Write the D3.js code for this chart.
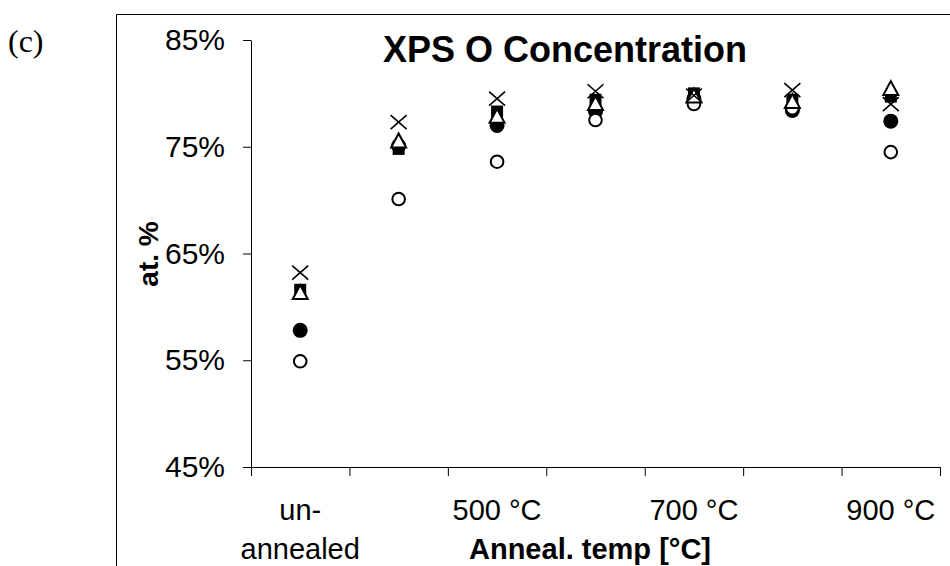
<!DOCTYPE html>
<html><head><meta charset="utf-8">
<script src="https://cdn.jsdelivr.net/npm/d3@7"></script>
<style>body{margin:0;background:#fff}svg{display:block}</style>
</head><body>
<svg id="c" width="950" height="566"></svg>
<script>
const categories = ["un-annealed","400 °C","500 °C","600 °C","700 °C","800 °C","900 °C"];
const shownLabels = [["un-","annealed"],null,["500 °C"],null,["700 °C"],null,["900 °C"]];
const yTicks = [45,55,65,75,85];
const seriesSquare   = [61.6, 74.8, 78.3, 79.4, 80.0, 79.4, 79.7];
const seriesFilled   = [57.8, 75.1, 77.0, 78.3, 79.5, 78.4, 77.4];
const seriesOpen     = [54.9, 70.1, 73.6, 77.5, 79.0, 78.6, 74.5];
const seriesTriangle = [61.3, 75.5, 77.8, 79.0, 79.7, 79.2, 80.4];
const seriesCross    = [63.2, 77.3, 79.5, 80.2, 79.8, 80.3, 79.0];

const svg = d3.select("#c");
const font = "Liberation Sans, Arial, sans-serif";
// outer frame (cropped: only top and left edges visible)
svg.append("path").attr("d","M116.5,566V14.5H950")
  .attr("fill","none").attr("stroke","#000").attr("stroke-width",1);
svg.append("text").attr("x",8).attr("y",52).attr("font-family","Liberation Serif, Times New Roman, serif")
  .attr("font-size",32).text("(c)");

const x = d3.scaleBand().domain(categories).range([251,940]).padding(0);
const y = d3.scaleLinear().domain([45,85]).range([467,40]);

// y axis
const gy = svg.append("g").attr("transform","translate(251,0)")
  .call(d3.axisLeft(y).tickValues(yTicks).tickSize(8).tickSizeOuter(0).tickFormat(d=>d+"%"));
gy.select(".domain").attr("stroke","#000");
gy.selectAll(".tick line").attr("stroke","#000");
gy.selectAll(".tick text").attr("font-family",font).attr("font-size",30).attr("fill","#000").attr("x",-26);

// x axis
svg.append("line").attr("x1",251).attr("x2",940).attr("y1",467.5).attr("y2",467.5).attr("stroke","#000");
const bounds = categories.map(c=>x(c)).concat([x(categories[categories.length-1])+x.bandwidth()]);
svg.selectAll(".xt").data(bounds).enter().append("line")
  .attr("x1",d=>d+0.5).attr("x2",d=>d+0.5).attr("y1",467).attr("y2",476).attr("stroke","#000");
categories.forEach((c,i)=>{
  const lab = shownLabels[i]; if(!lab) return;
  lab.forEach((t,j)=>{
    svg.append("text").attr("x",x(c)+x.bandwidth()/2).attr("y",520+j*39)
      .attr("text-anchor","middle").attr("font-family",font).attr("font-size",29).text(t);
  });
});

svg.append("text").attr("x",590).attr("y",559).attr("text-anchor","middle")
  .attr("font-family",font).attr("font-weight","bold").attr("font-size",29).text("Anneal. temp [°C]");
svg.append("text").attr("transform","translate(158,254) rotate(-90)").attr("text-anchor","middle")
  .attr("font-family",font).attr("font-weight","bold").attr("font-size",28).text("at. %");
svg.append("text").attr("x",565).attr("y",62).attr("text-anchor","middle")
  .attr("font-family",font).attr("font-weight","bold").attr("font-size",36).text("XPS O Concentration");

const cx = c => x(c)+x.bandwidth()/2;
const pts = arr => categories.map((c,i)=>({x:cx(c), y:y(arr[i])}));
// squares
svg.append("g").selectAll("rect").data(pts(seriesSquare)).enter().append("rect")
  .attr("x",d=>d.x-6).attr("y",d=>d.y-6).attr("width",12).attr("height",12).attr("fill","#000");
// filled circles
svg.append("g").selectAll("circle").data(pts(seriesFilled)).enter().append("circle")
  .attr("cx",d=>d.x).attr("cy",d=>d.y).attr("r",7.5).attr("fill","#000");
// open circles
svg.append("g").selectAll("circle").data(pts(seriesOpen)).enter().append("circle")
  .attr("cx",d=>d.x).attr("cy",d=>d.y).attr("r",6.3).attr("fill","#fff").attr("stroke","#000").attr("stroke-width",2);
// triangles
svg.append("g").selectAll("path").data(pts(seriesTriangle)).enter().append("path")
  .attr("d",d=>`M${d.x},${d.y-8}L${d.x+7.5},${d.y+6}L${d.x-7.5},${d.y+6}Z`)
  .attr("fill","#fff").attr("stroke","#000").attr("stroke-width",2);
// crosses
svg.append("g").selectAll("path").data(pts(seriesCross)).enter().append("path")
  .attr("d",d=>`M${d.x-8},${d.y-7}L${d.x+8},${d.y+7}M${d.x-8},${d.y+7}L${d.x+8},${d.y-7}`)
  .attr("stroke","#000").attr("stroke-width",1.6).attr("fill","none");
</script>
</body></html>
